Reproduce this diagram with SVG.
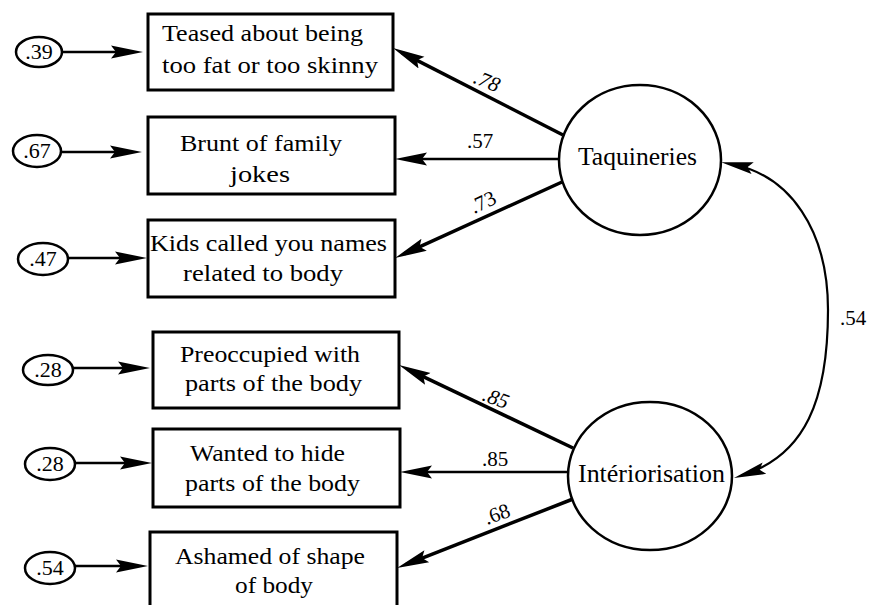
<svg xmlns="http://www.w3.org/2000/svg" width="870" height="605" viewBox="0 0 870 605">
<style>
text{font-family:"Liberation Serif","Times New Roman","DejaVu Serif",serif;fill:#000}
.box{fill:#fff;stroke:#000;stroke-width:3}
.err{fill:#fff;stroke:#000;stroke-width:2.5}
.lat{fill:#fff;stroke:#000;stroke-width:2.5}
.bt{font-size:23px}
.lt{font-size:25px}
.et{font-size:22px;text-anchor:middle}
.ld{font-size:21px;text-anchor:middle}
.it{font-style:italic}
.arr{fill:none;stroke:#000;stroke-width:2.5;marker-end:url(#ah)}
.thick{stroke-width:3.5}
.cov{fill:none;stroke:#000;stroke-width:2.2;marker-start:url(#ah2);marker-end:url(#ah2)}
</style>
<defs>
<marker id="ah" markerUnits="userSpaceOnUse" markerWidth="34" markerHeight="16" refX="22" refY="8" orient="auto" viewBox="0 0 34 16">
<path d="M0,1.5 L32,8 L0,14.5 L5,8 Z" fill="#000"/>
</marker>
<marker id="ah2" markerUnits="userSpaceOnUse" markerWidth="34" markerHeight="16" refX="22" refY="8" orient="auto-start-reverse" viewBox="0 0 34 16">
<path d="M0,2 L32,8 L0,14 L5,8 Z" fill="#000"/>
</marker>
</defs>

<g id="connectors">
<line class="arr" x1="62" y1="52" x2="133" y2="52"/>
<line class="arr" x1="61" y1="152" x2="132" y2="152"/>
<line class="arr" x1="68" y1="258" x2="137" y2="258"/>
<line class="arr" x1="73" y1="368" x2="140" y2="368"/>
<line class="arr" x1="75" y1="463" x2="142" y2="463"/>
<line class="arr" x1="75" y1="566" x2="138" y2="566"/>
<line class="arr thick" x1="563" y1="135" x2="401.9" y2="52.6"/>
<line class="arr" x1="559" y1="159" x2="405" y2="159"/>
<line class="arr thick" x1="562" y1="182" x2="404.1" y2="253.9"/>
<line class="arr thick" x1="573" y1="448" x2="408" y2="369.3"/>
<line class="arr" x1="568" y1="472" x2="410" y2="472"/>
<line class="arr thick" x1="573" y1="499" x2="406.3" y2="564.3"/>
<path class="cov" d="M731,164 C790,175 828,230 828,310 C828,400 805,455 743.5,474.9"/>
<text class="ld it" transform="translate(487,81) rotate(22)" y="7">.78</text>
<text class="ld" x="480" y="148">.57</text>
<text class="ld" transform="translate(483,202) rotate(-25)" y="7">.73</text>
<text class="ld it" transform="translate(496,398) rotate(20)" y="7">.85</text>
<text class="ld" x="495" y="466">.85</text>
<text class="ld" transform="translate(497,514) rotate(-20)" y="7">.68</text>
<text class="ld" x="853" y="325">.54</text>
</g>

<g id="e1"><ellipse class="err" cx="39" cy="52" rx="23" ry="15"/><text class="et" x="39" y="59">.39</text></g>
<g id="e2"><ellipse class="err" cx="37" cy="151" rx="24" ry="16"/><text class="et" x="37" y="158">.67</text></g>
<g id="e3"><ellipse class="err" cx="43" cy="259" rx="25" ry="16"/><text class="et" x="43" y="266">.47</text></g>
<g id="e4"><ellipse class="err" cx="48" cy="370" rx="25" ry="15"/><text class="et" x="48" y="377">.28</text></g>
<g id="e5"><ellipse class="err" cx="50" cy="464" rx="25" ry="16"/><text class="et" x="50" y="471">.28</text></g>
<g id="e6"><ellipse class="err" cx="50" cy="568" rx="25" ry="16"/><text class="et" x="50" y="575">.54</text></g>

<g id="b1"><rect class="box" x="148" y="14" width="245" height="76"/>
<text class="bt" x="162" y="41" textLength="201" lengthAdjust="spacingAndGlyphs">Teased about being</text>
<text class="bt" x="162" y="73" textLength="216" lengthAdjust="spacingAndGlyphs">too fat or too skinny</text></g>
<g id="b2"><rect class="box" x="148" y="117" width="247" height="77"/>
<text class="bt" x="180" y="151" textLength="162" lengthAdjust="spacingAndGlyphs">Brunt of family</text>
<text class="bt" x="230" y="182" textLength="60" lengthAdjust="spacingAndGlyphs">jokes</text></g>
<g id="b3"><rect class="box" x="148" y="220" width="247" height="77"/>
<text class="bt" x="150" y="251" textLength="237" lengthAdjust="spacingAndGlyphs">Kids called you names</text>
<text class="bt" x="183" y="281" textLength="160" lengthAdjust="spacingAndGlyphs">related to body</text></g>
<g id="b4"><rect class="box" x="153" y="332" width="246" height="76"/>
<text class="bt" x="180" y="362" textLength="180" lengthAdjust="spacingAndGlyphs">Preoccupied with</text>
<text class="bt" x="185" y="391" textLength="177" lengthAdjust="spacingAndGlyphs">parts of the body</text></g>
<g id="b5"><rect class="box" x="153" y="429" width="247" height="78"/>
<text class="bt" x="190" y="461" textLength="155" lengthAdjust="spacingAndGlyphs">Wanted to hide</text>
<text class="bt" x="185" y="491" textLength="175" lengthAdjust="spacingAndGlyphs">parts of the body</text></g>
<g id="b6"><rect class="box" x="150" y="532" width="247" height="85"/>
<text class="bt" x="175" y="564" textLength="190" lengthAdjust="spacingAndGlyphs">Ashamed of shape</text>
<text class="bt" x="235" y="593" textLength="78" lengthAdjust="spacingAndGlyphs">of body</text></g>

<g id="taquineries"><ellipse class="lat" cx="640" cy="160" rx="81" ry="75"/>
<text class="lt" x="578" y="165" textLength="119" lengthAdjust="spacingAndGlyphs">Taquineries</text></g>
<g id="interiorisation"><ellipse class="lat" cx="650" cy="476" rx="82" ry="74"/>
<text class="lt" x="578" y="482" textLength="147" lengthAdjust="spacingAndGlyphs">Intériorisation</text></g>
</svg>
